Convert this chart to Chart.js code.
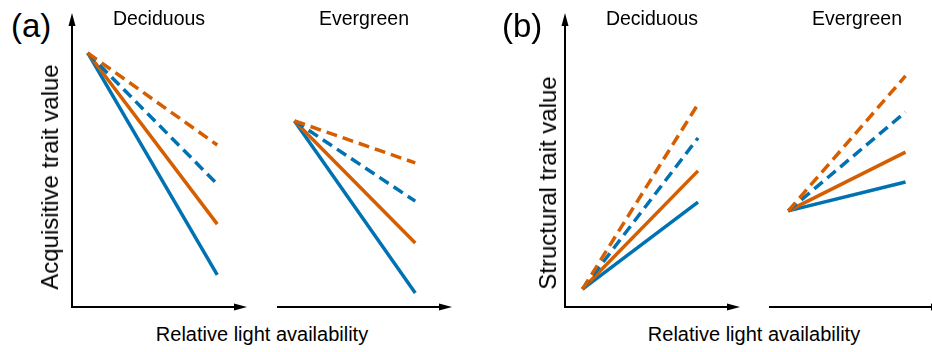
<!DOCTYPE html>
<html>
<head>
<meta charset="utf-8">
<script src="https://cdn.jsdelivr.net/npm/chart.js@4/dist/chart.umd.min.js"></script>
<style>
    body {
        margin: 0;
        width: 932px;
        height: 352px;
        overflow: hidden;
        position: relative;
        background: #fff;
        font-family: "Liberation Sans", Arial, sans-serif;
        color: #000;
    }
    canvas { position: absolute; }
    .txt {
        position: absolute;
        white-space: nowrap;
        line-height: 1;
    }
    .panel { font-size: 33px; }
    .group { font-size: 19.5px; transform: translateX(-50%); }
    .xlab { font-size: 20px; transform: translateX(-50%); }
    .ylab { font-size: 24px; transform: translate(-50%, -50%) rotate(-90deg); }
</style>
</head>
<body>

<canvas id="acqDecid" width="195" height="314" style="left:62px; top:3px"></canvas>
<canvas id="acqEver" width="195" height="314" style="left:267px; top:3px"></canvas>
<canvas id="strDecid" width="195" height="314" style="left:555px; top:3px"></canvas>
<canvas id="strEver" width="195" height="314" style="left:759px; top:3px"></canvas>

<div class="txt panel" style="left:11px; top:9px">(a)</div>
<div class="txt group" style="left:159px; top:9px">Deciduous</div>
<div class="txt group" style="left:364px; top:9px">Evergreen</div>
<div class="txt ylab" style="left:50px; top:177px">Acquisitive trait value</div>
<div class="txt xlab" style="left:262px; top:324px">Relative light availability</div>

<div class="txt panel" style="left:502px; top:9px">(b)</div>
<div class="txt group" style="left:652px; top:9px">Deciduous</div>
<div class="txt group" style="left:857px; top:9px">Evergreen</div>
<div class="txt ylab" style="left:548px; top:183px">Structural trait value</div>
<div class="txt xlab" style="left:754px; top:324px">Relative light availability</div>

<script>
// axis units: both axes run 0-10 (no ticks on the original figure)
// order of the four lines: blue solid, orange solid, blue dashed, orange dashed
const seriesColors = ['#0072B2', '#D55E00', '#0072B2', '#D55E00'];
const seriesDash = [[], [], [11, 6], [11, 6]];

// (a) acquisitive trait
const acqDecidLight = [0.9, 8.3];
const acqDecidStart = 8.64;
const acqDecidEnds = [1.09, 2.82, 4.18, 5.51];

const acqEverLight = [1.0, 7.9];
const acqEverStart = 6.33;
const acqEverEnds = [0.48, 2.18, 3.6, 4.9];

// (b) structural trait
const strDecidLight = [1.0, 7.6];
const strDecidStart = 0.61;
const strDecidEnds = [3.57, 4.63, 5.75, 6.9];

const strEverLight = [1.1, 7.8];
const strEverStart = 3.27;
const strEverEnds = [4.25, 5.27, 6.63, 7.86];

// draws the black arrowed axes along the edges of the chart area
const arrowAxes = {
    id: 'arrowAxes',
    afterDraw(chart, args, opts) {
        const ctx = chart.ctx;
        const a = chart.chartArea;
        const head = 13;
        const half = 3.5;
        ctx.save();
        ctx.strokeStyle = '#000';
        ctx.fillStyle = '#000';
        ctx.lineWidth = 2;
        ctx.lineJoin = 'miter';
        ctx.beginPath();
        if (opts.yArrow) {
            ctx.moveTo(a.left, a.top + head - 1);
            ctx.lineTo(a.left, a.bottom);
        } else {
            ctx.moveTo(a.left, a.bottom);
        }
        ctx.lineTo(a.right - head + 1, a.bottom);
        ctx.stroke();

        // x arrow head
        ctx.beginPath();
        ctx.moveTo(a.right, a.bottom);
        ctx.lineTo(a.right - head, a.bottom - half);
        ctx.lineTo(a.right - head, a.bottom + half);
        ctx.closePath();
        ctx.fill();

        if (opts.yArrow) {
            ctx.beginPath();
            ctx.moveTo(a.left, a.top);
            ctx.lineTo(a.left - half, a.top + head);
            ctx.lineTo(a.left + half, a.top + head);
            ctx.closePath();
            ctx.fill();
        }
        ctx.restore();
    }
};

function makeChart(id, light, start, ends, yArrow) {
    let datasets = [];
    for (let i = 0; i < ends.length; i++) {
        datasets.push({
            data: [
                { x: light[0], y: start },
                { x: light[1], y: ends[i] }
            ],
            borderColor: seriesColors[i],
            borderWidth: 3.5,
            borderDash: seriesDash[i],
            borderCapStyle: 'butt',
            pointRadius: 0,
            fill: false,
            order: ends.length - i
        });
    }

    return new Chart(document.getElementById(id), {
        type: 'line',
        data: { datasets: datasets },
        options: {
            responsive: false,
            animation: false,
            events: [],
            layout: { padding: 10 },
            plugins: {
                legend: { display: false },
                tooltip: { enabled: false },
                arrowAxes: { yArrow: yArrow }
            },
            scales: {
                x: { type: 'linear', min: 0, max: 10, display: false },
                y: { type: 'linear', min: 0, max: 10, display: false }
            }
        },
        plugins: [arrowAxes]
    });
}

makeChart('acqDecid', acqDecidLight, acqDecidStart, acqDecidEnds, true);
makeChart('acqEver', acqEverLight, acqEverStart, acqEverEnds, false);
makeChart('strDecid', strDecidLight, strDecidStart, strDecidEnds, true);
makeChart('strEver', strEverLight, strEverStart, strEverEnds, false);
</script>
</body>
</html>
